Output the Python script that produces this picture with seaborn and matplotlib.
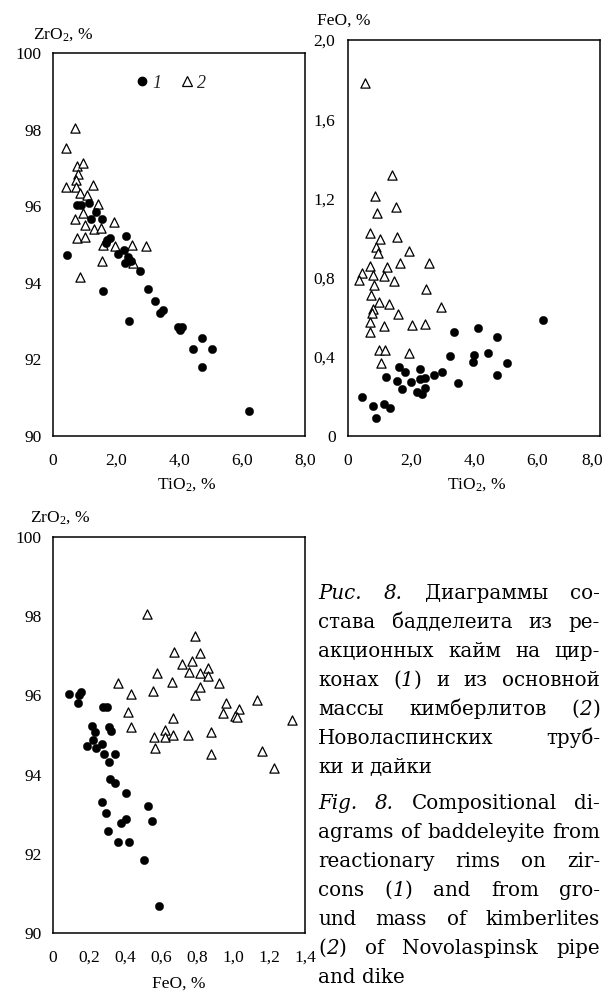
import numpy as np
import pandas as pd
import matplotlib
matplotlib.use("Agg")
import matplotlib.pyplot as plt
import seaborn as sns
from matplotlib.ticker import FixedLocator, FixedFormatter, MultipleLocator
from matplotlib.lines import Line2D
from matplotlib.transforms import ScaledTranslation
from matplotlib.font_manager import FontProperties

# ---------------- data ----------------
# Plot A: ZrO2 vs TiO2
a_rim_tio2 = [0.44, 0.75, 0.88, 1.15, 1.35, 1.20, 1.57, 1.72, 1.81, 2.32, 2.06, 2.24, 2.38, 2.28, 2.49,
              2.77, 1.59, 3.02, 3.23, 3.39, 3.49, 2.41, 3.97, 4.10, 4.02, 4.74, 4.45, 5.06, 4.74, 6.23, 1.69]
a_rim_zro2 = [94.73, 96.03, 96.03, 96.08, 95.84, 95.67, 95.66, 95.12, 95.18, 95.22, 94.75, 94.86, 94.68, 94.51, 94.58,
              94.31, 93.79, 93.83, 93.53, 93.20, 93.29, 93.01, 92.84, 92.84, 92.77, 92.57, 92.27, 92.27, 91.81, 90.65, 95.03]
a_gm_tio2 = [0.70, 0.40, 0.77, 0.96, 0.80, 0.74, 0.42, 0.73, 1.26, 0.86, 1.09, 1.44, 0.70, 0.94, 1.00,
             1.29, 1.51, 1.94, 0.76, 1.03, 1.58, 1.96, 2.52, 2.94, 1.57, 0.85, 2.54]
a_gm_zro2 = [98.04, 97.51, 97.06, 97.12, 96.84, 96.68, 96.51, 96.51, 96.55, 96.34, 96.29, 96.05, 95.67, 95.81, 95.51,
             95.40, 95.42, 95.58, 95.16, 95.20, 94.99, 94.95, 95.00, 94.97, 94.58, 94.14, 94.51]

# Plot B: FeO vs TiO2
b_rim_tio2 = [3.37, 4.13, 4.74, 3.23, 4.00, 3.97, 4.44, 5.06, 4.73, 1.61, 1.80, 2.28, 1.22, 1.56, 2.01,
              2.28, 2.43, 2.73, 2.99, 3.49, 1.71, 2.43, 2.20, 2.35, 0.44, 0.79, 1.14, 1.32, 0.90, 6.20]
b_rim_feo = [0.527, 0.544, 0.502, 0.406, 0.409, 0.372, 0.417, 0.367, 0.308, 0.350, 0.323, 0.338, 0.296, 0.279, 0.271,
             0.286, 0.295, 0.308, 0.322, 0.270, 0.236, 0.244, 0.221, 0.210, 0.195, 0.153, 0.162, 0.143, 0.089, 0.586]
b_gm_tio2 = [0.54, 1.40, 0.85, 1.53, 0.93, 0.69, 1.01, 1.56, 0.90, 0.95, 1.93, 0.71, 1.24, 1.64, 2.56,
             0.45, 0.79, 1.13, 0.35, 1.45, 0.83, 2.48, 0.72, 0.97, 1.29, 0.79, 0.76, 1.59, 2.94, 0.69,
             1.14, 2.03, 2.43, 0.69, 0.98, 1.18, 1.93, 1.06]
b_gm_feo = [1.784, 1.318, 1.212, 1.155, 1.125, 1.027, 0.993, 1.003, 0.953, 0.923, 0.936, 0.859, 0.855, 0.875, 0.872,
            0.825, 0.813, 0.808, 0.788, 0.783, 0.763, 0.742, 0.712, 0.675, 0.667, 0.640, 0.620, 0.616, 0.653, 0.574,
            0.556, 0.561, 0.564, 0.524, 0.434, 0.434, 0.418, 0.367]

# Plot C: ZrO2 vs FeO
c_rim_feo = [0.087, 0.155, 0.147, 0.137, 0.279, 0.298, 0.214, 0.232, 0.311, 0.322, 0.222, 0.188, 0.239, 0.274, 0.283,
             0.344, 0.309, 0.314, 0.344, 0.405, 0.270, 0.530, 0.294, 0.548, 0.376, 0.406, 0.307, 0.363, 0.422, 0.506, 0.590]
c_rim_zro2 = [96.04, 96.08, 96.02, 95.82, 95.70, 95.70, 95.23, 95.07, 95.20, 95.10, 94.88, 94.73, 94.66, 94.77, 94.52,
              94.52, 94.33, 93.88, 93.80, 93.54, 93.30, 93.21, 93.02, 92.84, 92.77, 92.87, 92.58, 92.29, 92.29, 91.84, 90.69]
c_gm_feo = [0.524, 0.789, 0.672, 0.817, 0.715, 0.770, 0.576, 0.756, 0.817, 0.863, 0.863, 0.363, 0.659, 0.924, 0.432,
            0.554, 0.789, 0.817, 0.419, 0.432, 0.665, 0.961, 0.943, 1.035, 1.010, 1.020, 1.135, 1.326, 0.563, 0.622,
            0.620, 0.665, 0.748, 0.876, 0.565, 0.879, 1.163, 1.226]
c_gm_zro2 = [98.06, 97.50, 97.10, 97.06, 96.79, 96.88, 96.57, 96.60, 96.57, 96.68, 96.49, 96.32, 96.35, 96.31, 96.04,
             96.11, 96.01, 96.20, 95.58, 95.19, 95.42, 95.80, 95.55, 95.65, 95.48, 95.45, 95.88, 95.38, 94.94, 95.13,
             94.96, 95.00, 95.00, 95.08, 94.66, 94.52, 94.60, 94.17]

# tick values / labels
tio2_ticks = [0, 2, 4, 6, 8]
tio2_labels = ["0", "2,0", "4,0", "6,0", "8,0"]
zro2_ticks = [90, 92, 94, 96, 98, 100]
zro2_labels = ["90", "92", "94", "96", "98", "100"]
feo_y_ticks = [0, 0.4, 0.8, 1.2, 1.6, 2.0]
feo_y_labels = ["0", "0,4", "0,8", "1,2", "1,6", "2,0"]
feo_x_ticks = [0, 0.2, 0.4, 0.6, 0.8, 1.0, 1.2, 1.4]
feo_x_labels = ["0", "0,2", "0,4", "0,6", "0,8", "1,0", "1,2", "1,4"]
legend_labels = ["1", "2"]

caption_ru = ["*Рис.* *8.* Диаграммы со-", "става бадделеита из ре-", "акционных кайм на цир-",
              "конах (*1*) и из основной", "массы кимберлитов (*2*)", "Новоласпинских труб-", "ки и дайки"]
caption_en = ["*Fig.* *8.* Compositional di-", "agrams of baddeleyite from", "reactionary rims on zir-",
              "cons (*1*) and from gro-", "und mass of kimberlites", "(*2*) of Novolaspinsk pipe", "and dike"]

# ---------------- style ----------------
sns.set_theme(style="white")
plt.rcParams["font.family"] = ["Liberation Serif", "DejaVu Serif"]
plt.rcParams["mathtext.fontset"] = "custom"
plt.rcParams["mathtext.rm"] = "Liberation Serif"
plt.rcParams["mathtext.it"] = "Liberation Serif:italic"

W, H = 607, 992
fig = plt.figure(figsize=(W / 100, H / 100), dpi=100)
fig.patch.set_facecolor("white")


def rect(x0, y0, x1, y1):
    return [x0 / W, 1 - y1 / H, (x1 - x0) / W, (y1 - y0) / H]


def fpos(x, y):
    return x / W, 1 - y / H


TS = 12.5
CIRC_S = 36
TRI_S = 44


def style_axes(ax, xt, xl, xminor, xlim, yt, yl, yminor, ylim, ypad=8):
    ax.set_xlim(*xlim)
    ax.set_ylim(*ylim)
    ax.xaxis.set_major_locator(FixedLocator(xt))
    ax.xaxis.set_major_formatter(FixedFormatter(xl))
    ax.yaxis.set_major_locator(FixedLocator(yt))
    ax.yaxis.set_major_formatter(FixedFormatter(yl))
    ax.xaxis.set_minor_locator(MultipleLocator(xminor))
    ax.yaxis.set_minor_locator(MultipleLocator(yminor))
    for s in ax.spines.values():
        s.set_visible(True)
        s.set_color("black")
        s.set_linewidth(1.1)
    ax.tick_params(which="both", direction="in", top=False, right=False, colors="black", width=1.0)
    ax.tick_params(axis="x", which="major", length=8, pad=12, labelsize=TS)
    ax.tick_params(axis="x", which="minor", length=5)
    ax.tick_params(axis="y", which="major", length=7.5, pad=ypad, labelsize=TS)
    ax.tick_params(axis="y", which="minor", length=6)
    ax.set_xlabel("")
    ax.set_ylabel("")
    ax.set_facecolor("white")
    ax.grid(False)


def draw(ax, x1, y1, x2, y2):
    sns.scatterplot(x=x2, y=y2, ax=ax, marker="^", s=TRI_S, color="white", edgecolor="black",
                    linewidth=0.9, zorder=3)
    sns.scatterplot(x=x1, y=y1, ax=ax, marker="o", s=CIRC_S, color="black", edgecolor="black",
                    linewidth=0.3, zorder=4)


# Plot A
axA = fig.add_axes(rect(53, 53, 305, 436))
draw(axA, a_rim_tio2, a_rim_zro2, a_gm_tio2, a_gm_zro2)
style_axes(axA, tio2_ticks, tio2_labels, 0.5, (0, 8), zro2_ticks, zro2_labels, 1, (90, 100))

# Plot B
axB = fig.add_axes(rect(348, 40, 600, 436))
draw(axB, b_rim_tio2, b_rim_feo, b_gm_tio2, b_gm_feo)
style_axes(axB, tio2_ticks, tio2_labels, 0.5, (0, 8), feo_y_ticks, feo_y_labels, 0.2, (0, 2.0), ypad=9)

# Plot C
axC = fig.add_axes(rect(53, 537, 305, 933))
draw(axC, c_rim_feo, c_rim_zro2, c_gm_feo, c_gm_zro2)
style_axes(axC, feo_x_ticks, feo_x_labels, 0.1, (0, 1.4), zro2_ticks, zro2_labels, 1, (90, 100))
axC.tick_params(axis="x", which="major", length=7.5)
axC.tick_params(axis="x", which="minor", length=6.5)

# legend in plot A
handles = [Line2D([], [], ls="", marker="o", ms=np.sqrt(CIRC_S), mfc="black", mec="black"),
           Line2D([], [], ls="", marker="^", ms=np.sqrt(TRI_S), mfc="white", mec="black", mew=0.9)]
leg = axA.legend(handles, legend_labels, loc="center left", bbox_to_anchor=(0.335, 0.921), ncol=2,
                 frameon=False, borderpad=0, borderaxespad=0, handlelength=0.5, handletextpad=0.3,
                 columnspacing=1.2, prop={"family": "Liberation Serif", "style": "italic", "size": 13})

# axis titles
lab_kw = dict(fontsize=TS, color="black", va="baseline", ha="left")
fig.text(*fpos(33, 39), "ZrO$_2$, %", **lab_kw)
fig.text(*fpos(317, 25), "FeO, %", **lab_kw)
fig.text(*fpos(30, 522), "ZrO$_2$, %", **lab_kw)
fig.text(*fpos(157, 489), "TiO$_2$, %", **lab_kw)
fig.text(*fpos(447, 489), "TiO$_2$, %", **lab_kw)
fig.text(*fpos(152, 988), "FeO, %", **lab_kw)

fig.canvas.draw()
# the last x label of the right panel is pulled in to stay inside the page
lastB = axB.xaxis.get_major_ticks()[-1].label1
lastB.set_transform(lastB.get_transform() + ScaledTranslation(-8 / 100, 0, fig.dpi_scale_trans))

# ---------------- caption (justified) ----------------
renderer = fig.canvas.get_renderer()
CAP_FS = 14.3
fp_r = FontProperties(family="DejaVu Serif", size=CAP_FS)
fp_i = FontProperties(family="DejaVu Serif", style="italic", size=CAP_FS)


def parse_word(word):
    segs, it, cur = [], False, ""
    for ch in word:
        if ch == "*":
            if cur:
                segs.append((cur, it))
            cur, it = "", not it
        else:
            cur += ch
    if cur:
        segs.append((cur, it))
    return segs


def wtxt(s, it):
    w, h, d = renderer.get_text_width_height_descent(s, fp_i if it else fp_r, ismath=False)
    return w


space_w = wtxt("a a", False) - wtxt("aa", False)


def draw_par(lines, x0, x1, y0, dy):
    for i, line in enumerate(lines):
        words = [parse_word(w) for w in line.split()]
        widths = [sum(wtxt(s, it) for s, it in segs) for segs in words]
        last = i == len(lines) - 1
        if last or len(words) < 2:
            gap = space_w
        else:
            gap = (x1 - x0 - sum(widths)) / (len(words) - 1)
        x = x0
        y = y0 + i * dy
        for segs, ww in zip(words, widths):
            xx = x
            for s, it in segs:
                fig.text(xx / W, 1 - y / H, s, fontproperties=fp_i if it else fp_r, color="black",
                         va="baseline", ha="left")
                xx += wtxt(s, it)
            x += ww + gap


draw_par(caption_ru, 318, 600, 599, 29.0)
draw_par(caption_en, 318, 600, 809, 29.0)

fig.savefig("out.png", dpi=100, facecolor="white")
